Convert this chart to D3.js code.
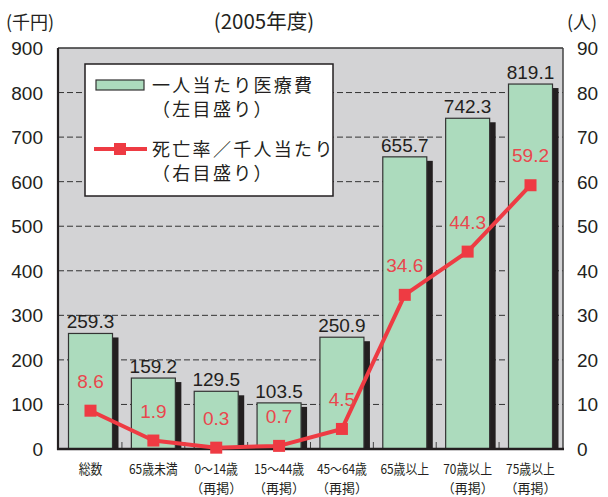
<!DOCTYPE html>
<html><head><meta charset="utf-8">
<script src="https://cdn.jsdelivr.net/npm/d3@7"></script>
<style>
body{margin:0;background:#fff;}
text{font-family:"Liberation Sans","Noto Sans CJK JP",sans-serif;}
.jp{font-family:"Noto Sans CJK JP","Liberation Sans",sans-serif;}
</style></head>
<body><svg id="c" width="608" height="497"></svg>
<script>
const categories = ["総数","65歳未満","0～14歳","15～44歳","45～64歳","65歳以上","70歳以上","75歳以上"];
const subLabels = ["","","（再掲）","（再掲）","（再掲）","","（再掲）","（再掲）"];
const costValues = [259.3,159.2,129.5,103.5,250.9,655.7,742.3,819.1];
const deathRates = [8.6,1.9,0.3,0.7,4.5,34.6,44.3,59.2];
const leftTicks = [0,100,200,300,400,500,600,700,800,900];
const rightTicks = [0,10,20,30,40,50,60,70,80,90];
const title = "(2005年度)";
const leftUnit = "(千円)";
const rightUnit = "(人)";
const legendLabels = [["一人当たり医療費","（左目盛り）"],["死亡率／千人当たり","（右目盛り）"]];

const svg = d3.select("#c");
const L=58,R=563,T=48,B=449;
const x = d3.scaleBand().domain(categories).range([L,R]).paddingInner(0.3).paddingOuter(0.167);
const yL = d3.scaleLinear().domain([0,900]).range([B,T]);
const yR = d3.scaleLinear().domain([0,90]).range([B,T]);
const red="#ee3b43", redText="#e9474d", green="#acdbbd", dark="#231f20";

svg.append("rect").attr("x",L).attr("y",T).attr("width",R-L).attr("height",B-T).attr("fill","#d3d3d5");

svg.append("g").selectAll("line").data(leftTicks.slice(1,-1)).join("line")
  .attr("x1",L).attr("x2",R).attr("y1",d=>yL(d)).attr("y2",d=>yL(d))
  .attr("stroke","#333").attr("stroke-width",1).attr("stroke-dasharray","6,3");

const centers = categories.map(c=>x(c)+x.bandwidth()/2);
svg.append("g").selectAll("line").data(centers.slice(0,-1)).join("line")
  .attr("x1",(d,i)=>(d+centers[i+1])/2).attr("x2",(d,i)=>(d+centers[i+1])/2)
  .attr("y1",B).attr("y2",B-7).attr("stroke","#444").attr("stroke-width",1);

svg.append("g").selectAll("rect").data(costValues).join("rect")
  .attr("x",(d,i)=>x(categories[i])+x.bandwidth())
  .attr("y",d=>yL(d)+4).attr("width",6).attr("height",d=>B-yL(d)-4).attr("fill",dark);
svg.append("g").selectAll("rect").data(costValues).join("rect")
  .attr("x",(d,i)=>x(categories[i])).attr("y",d=>yL(d))
  .attr("width",x.bandwidth()).attr("height",d=>B-yL(d))
  .attr("fill",green).attr("stroke","#333").attr("stroke-width",1.2);

svg.append("g").selectAll("text").data(costValues).join("text")
  .attr("x",(d,i)=>centers[i]).attr("y",d=>yL(d)-5).attr("text-anchor","middle")
  .attr("font-size",19).attr("fill",dark).text(d=>d.toFixed(1));

svg.append("line").attr("x1",L).attr("x2",R).attr("y1",T).attr("y2",T).attr("stroke","#333").attr("stroke-width",1.5);
svg.append("line").attr("x1",R).attr("x2",R).attr("y1",T).attr("y2",B).attr("stroke","#444").attr("stroke-width",1.5);
svg.append("line").attr("x1",L).attr("x2",L).attr("y1",T).attr("y2",B+1).attr("stroke",dark).attr("stroke-width",2.2);
svg.append("line").attr("x1",L-1).attr("x2",R+1).attr("y1",B).attr("y2",B).attr("stroke",dark).attr("stroke-width",2.5);

const line = d3.line().x((d,i)=>centers[i]).y(d=>yR(d));
svg.append("path").datum(deathRates).attr("d",line).attr("fill","none")
  .attr("stroke",red).attr("stroke-width",4).attr("stroke-linejoin","round");
svg.append("g").selectAll("rect").data(deathRates).join("rect")
  .attr("x",(d,i)=>centers[i]-6).attr("y",d=>yR(d)-6).attr("width",12).attr("height",12).attr("fill",red);
svg.append("g").selectAll("text").data(deathRates).join("text")
  .attr("x",(d,i)=>centers[i]).attr("y",d=>yR(d)-23).attr("text-anchor","middle")
  .attr("font-size",19).attr("fill",redText).text(d=>d.toFixed(1));

svg.append("g").selectAll("text").data(leftTicks).join("text")
  .attr("x",43).attr("y",d=>yL(d)+7).attr("text-anchor","end").attr("font-size",19).attr("fill",dark).text(d=>d);
svg.append("g").selectAll("text").data(rightTicks).join("text")
  .attr("x",577).attr("y",d=>yR(d)+7).attr("text-anchor","start").attr("font-size",19).attr("fill",dark).text(d=>d);

const xl = svg.append("g");
categories.forEach((c,i)=>{
  xl.append("text").attr("class","jp").attr("transform",`translate(${centers[i]},474) scale(0.88,1)`)
    .attr("text-anchor","middle").attr("font-size",13.5).attr("fill",dark).text(c);
  if(subLabels[i]) xl.append("text").attr("class","jp").attr("transform",`translate(${centers[i]},493)`)
    .attr("text-anchor","middle").attr("font-size",13).attr("fill",dark).text(subLabels[i]);
});

svg.append("text").attr("class","jp").attr("x",264).attr("y",29).attr("text-anchor","middle").attr("font-size",20.5).attr("fill",dark).text(title);
svg.append("text").attr("class","jp").attr("x",6).attr("y",29).attr("font-size",18).attr("fill",dark).text(leftUnit);
svg.append("text").attr("class","jp").attr("x",567).attr("y",29).attr("font-size",18).attr("fill",dark).text(rightUnit);

const lg = svg.append("g");
lg.append("rect").attr("x",85).attr("y",64).attr("width",248).attr("height",132).attr("fill","#fff").attr("stroke",dark).attr("stroke-width",1.5);
lg.append("rect").attr("x",96).attr("y",80).attr("width",48).attr("height",10).attr("fill",green).attr("stroke","#333").attr("stroke-width",1.2);
lg.append("line").attr("x1",94).attr("x2",147).attr("y1",149).attr("y2",149).attr("stroke",red).attr("stroke-width",4);
lg.append("rect").attr("x",114).attr("y",143).attr("width",12).attr("height",12).attr("fill",red);
const ly = [[92,116],[156,180]];
legendLabels.forEach((pair,i)=>{
  pair.forEach((t,j)=>{
    lg.append("text").attr("class","jp").attr("x",152).attr("y",ly[i][j]).attr("font-size",18)
      .attr("letter-spacing",2.3).attr("fill",dark).text(t);
  });
});
</script></body></html>
